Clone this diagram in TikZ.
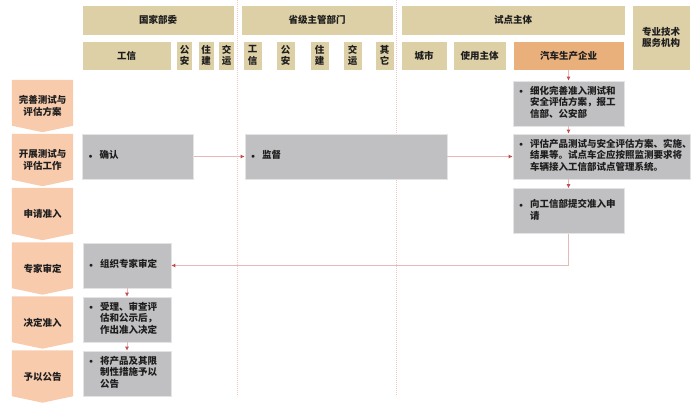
\documentclass[tikz,border=0pt]{standalone}
\usepackage{fontspec}
\setmainfont{Noto Sans CJK SC}
\usetikzlibrary{positioning,arrows.meta,backgrounds,calc}
\definecolor{hdrFill}{HTML}{DDCFA6}
\definecolor{carFill}{HTML}{E9B07C}
\definecolor{stepFill}{HTML}{F8CBAD}
\definecolor{taskFill}{HTML}{C0C0C2}
\definecolor{taskStroke}{HTML}{E4E4E4}
\definecolor{lineCol}{HTML}{E6B9B8}
\definecolor{tipCol}{HTML}{C0504D}
\definecolor{sepCol}{HTML}{F0C8C8}
\definecolor{txtCol}{HTML}{1E1E1E}
\setlength{\parindent}{0pt}
\newcommand{\bul}[1]{\makebox[11pt][l]{\raisebox{0.6pt}{$\scriptstyle\bullet$}}\begin{tabular}[t]{@{}l@{}}#1\end{tabular}}

\begin{document}
\begin{tikzpicture}[x=1pt, y=-1pt,
  font=\fontsize{9.5}{11.5}\selectfont\bfseries, text=txtCol,
  hdr/.style={fill=hdrFill, draw=white, line width=0.6pt, inner sep=0pt, align=center},
  car/.style={hdr, fill=carFill},
  stepbox/.style={minimum width=61pt, minimum height=52pt, inner sep=0pt, align=center},
  task/.style={fill=taskFill, draw=taskStroke, line width=0.6pt, minimum height=45pt,
               inner xsep=6pt, inner ysep=2pt, align=left},
  arr/.style={draw=lineCol, line width=0.8pt, -{Latex[length=4pt,width=4pt,color=tipCol]}},
  sep/.style={draw=sepCol, line width=1pt, dash pattern=on 1.2pt off 0.8pt}
]
\useasboundingbox (0,0) rectangle (700,408);

% ============ HEADER ============
\node[hdr, minimum width=152pt, minimum height=30pt] (gjbw) at (158,20) {国家部委};
\node[hdr, minimum width=152pt, minimum height=30pt] (sjbm) at (317,20) {省级主管部门};
\node[hdr, minimum width=224pt, minimum height=30pt] (sdzt) at (513,20) {试点主体};
\node[hdr, minimum width=58pt, minimum height=65pt] (zyjs) at (661,37.5) {专业技术\\服务机构};

\node[hdr, minimum width=89pt, minimum height=29pt] (gx1) at (126.5,55.5) {工信};
\node[hdr, minimum width=16pt, minimum height=29pt] (ga1) at (184.5,55.5) {公\\安};
\node[hdr, minimum width=16pt, minimum height=29pt] (zj1) at (206,55.5) {住\\建};
\node[hdr, minimum width=16pt, minimum height=29pt] (jy1) at (226.5,55.5) {交\\运};

\node[hdr, minimum width=19pt, minimum height=29pt] (gx2) at (252.5,55.5) {工\\信};
\node[hdr, minimum width=19pt, minimum height=29pt] (ga2) at (285.5,55.5) {公\\安};
\node[hdr, minimum width=19pt, minimum height=29pt] (zj2) at (319.5,55.5) {住\\建};
\node[hdr, minimum width=19pt, minimum height=29pt] (jy2) at (352.5,55.5) {交\\运};
\node[hdr, minimum width=19pt, minimum height=29pt] (qt2) at (384.5,55.5) {其\\它};

\node[hdr, minimum width=46pt, minimum height=29pt] (cs) at (424,55.5) {城市};
\node[hdr, minimum width=53pt, minimum height=29pt] (syzt) at (479.5,55.5) {使用主体};
\node[car, minimum width=111pt, minimum height=29pt] (qcqy) at (568.5,55.5) {汽车生产企业};

% ============ STEPS (left column) ============
\node[stepbox] (s1) at (42.5,106) {完善测试与\\评估方案};
\node[stepbox] (s2) at (42.5,160) {开展测试与\\评估工作};
\node[stepbox] (s3) at (42.5,214) {申请准入};
\node[stepbox] (s4) at (42.5,268.5) {专家审定};
\node[stepbox] (s5) at (42.5,322.5) {决定准入};
\node[stepbox] (s6) at (42.5,376.5) {予以公告};

% ============ TASKS ============
\node[task, text width=99pt] (qr) at (138,156.5) {\bul{确认}};
\node[task, text width=190pt] (jd) at (346,156.5) {\bul{监督}};
\node[task, text width=99pt] (xh) at (568.5,103.5) {\bul{细化完善准入测试和\\安全评估方案，报工\\信部、公安部}};
\node[task, text width=165pt] (pg) at (601.5,156.5) {\bul{评估产品测试与安全评估方案、实施、\\结果等。试点车企应按照监测要求将\\车辆接入工信部试点管理系统。}};
\node[task, text width=99pt] (tj) at (568.5,211) {\bul{向工信部提交准入申\\请}};
\node[task, text width=76pt] (zz) at (127,265.5) {\bul{组织专家审定}};
\node[task, text width=76pt] (sl) at (127,319.5) {\bul{受理、审查评\\估和公示后，\\作出准入决定}};
\node[task, text width=76pt] (gg) at (127,373.5) {\bul{将产品及其限\\制性措施予以\\公告}};

% ============ FLOW ============
\draw[arr] (qcqy.south) -- (xh.north);
\draw[arr] (xh.south) -- (xh.south |- pg.north);
\draw[arr] (tj.north |- pg.south) -- (tj.north);
\draw[arr] (tj.south) |- (zz.east);
\draw[arr] (qr.east) -- (jd.west);
\draw[arr] (jd.east) -- (pg.west);
\draw[arr] (zz.south) -- (sl.north);
\draw[arr] (sl.south) -- (gg.north);

% ============ BACKGROUND: chevrons and lane separators ============
\begin{scope}[on background layer]
  \foreach \s in {s1,s2,s3,s4,s5,s6}
    \fill[stepFill] (\s.north west) -- (\s.north east) -- ($(\s.south east)+(0,-6.5)$)
      -- (\s.south) -- ($(\s.south west)+(0,-6.5)$) -- cycle;
  \draw[sep] (237.5,0) -- (237.5,396);
  \draw[sep] (396.5,0) -- (396.5,396);
\end{scope}

\end{tikzpicture}
\end{document}
